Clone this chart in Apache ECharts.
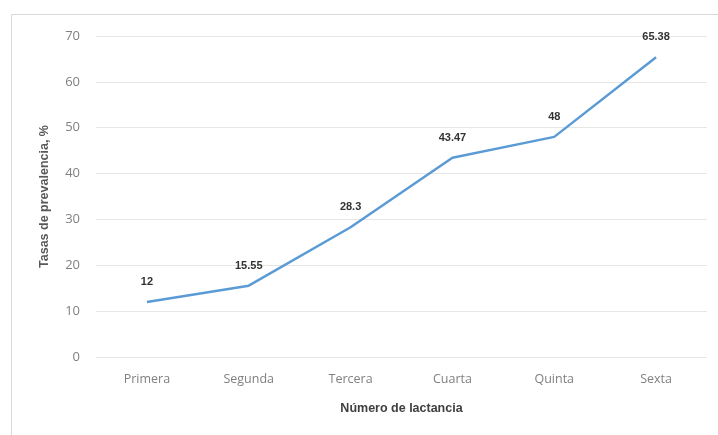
<!DOCTYPE html>
<html><head><meta charset="utf-8">
<script src="https://cdn.jsdelivr.net/npm/echarts@6/dist/echarts.min.js"></script>
<style>html,body{margin:0;padding:0;background:#fff}#c{width:718px;height:435px}</style>
</head><body><div id="c"></div>
<script>
const categories = ['Primera','Segunda','Tercera','Cuarta','Quinta','Sexta'];
const values = [12, 15.55, 28.3, 43.47, 48, 65.38];
const labels = ['12','15.55','28.3','43.47','48','65.38'];
const yTicks = [0,10,20,30,40,50,60,70];

const chart = echarts.init(document.getElementById('c'));
chart.setOption({
  animation:false,
  backgroundColor:'#fff',
  graphic:[{type:'rect',shape:{x:11.5,y:14.5,width:720,height:430},style:{fill:'none',stroke:'#d9d9d9',lineWidth:1},silent:true}],
  grid:{left:96,right:11,top:36,bottom:78},
  xAxis:{type:'category',data:categories,boundaryGap:true,
    axisLine:{show:false},axisTick:{show:false},
    axisLabel:{color:'#808080',fontFamily:'Open Sans',fontSize:12.5,margin:16},
    name:'Número de lactancia',nameLocation:'middle',nameGap:45,
    nameTextStyle:{color:'#404040',fontWeight:'bold',fontSize:12.5,fontFamily:'Liberation Sans'}},
  yAxis:{type:'value',min:yTicks[0],max:yTicks[yTicks.length-1],interval:10,
    axisLine:{show:false},axisTick:{show:false},
    splitLine:{lineStyle:{color:'#e6e6e6',width:1}},
    axisLabel:{color:'#808080',fontFamily:'Open Sans',fontSize:13,margin:16},
    name:'Tasas de prevalencia, %',nameLocation:'middle',nameGap:45,
    nameTextStyle:{color:'#595959',fontWeight:'bold',fontSize:12.5,fontFamily:'Liberation Sans'}},
  series:[{type:'line',data:values,showSymbol:true,symbol:'circle',symbolSize:1,
    itemStyle:{color:'rgba(0,0,0,0)'},
    lineStyle:{color:'#5b9bd5',width:2.5},
    label:{show:true,position:'top',distance:14,color:'#333',fontWeight:'bold',fontSize:11,fontFamily:'Liberation Sans',
      formatter:p=>labels[p.dataIndex]}}]
});
</script></body></html>
